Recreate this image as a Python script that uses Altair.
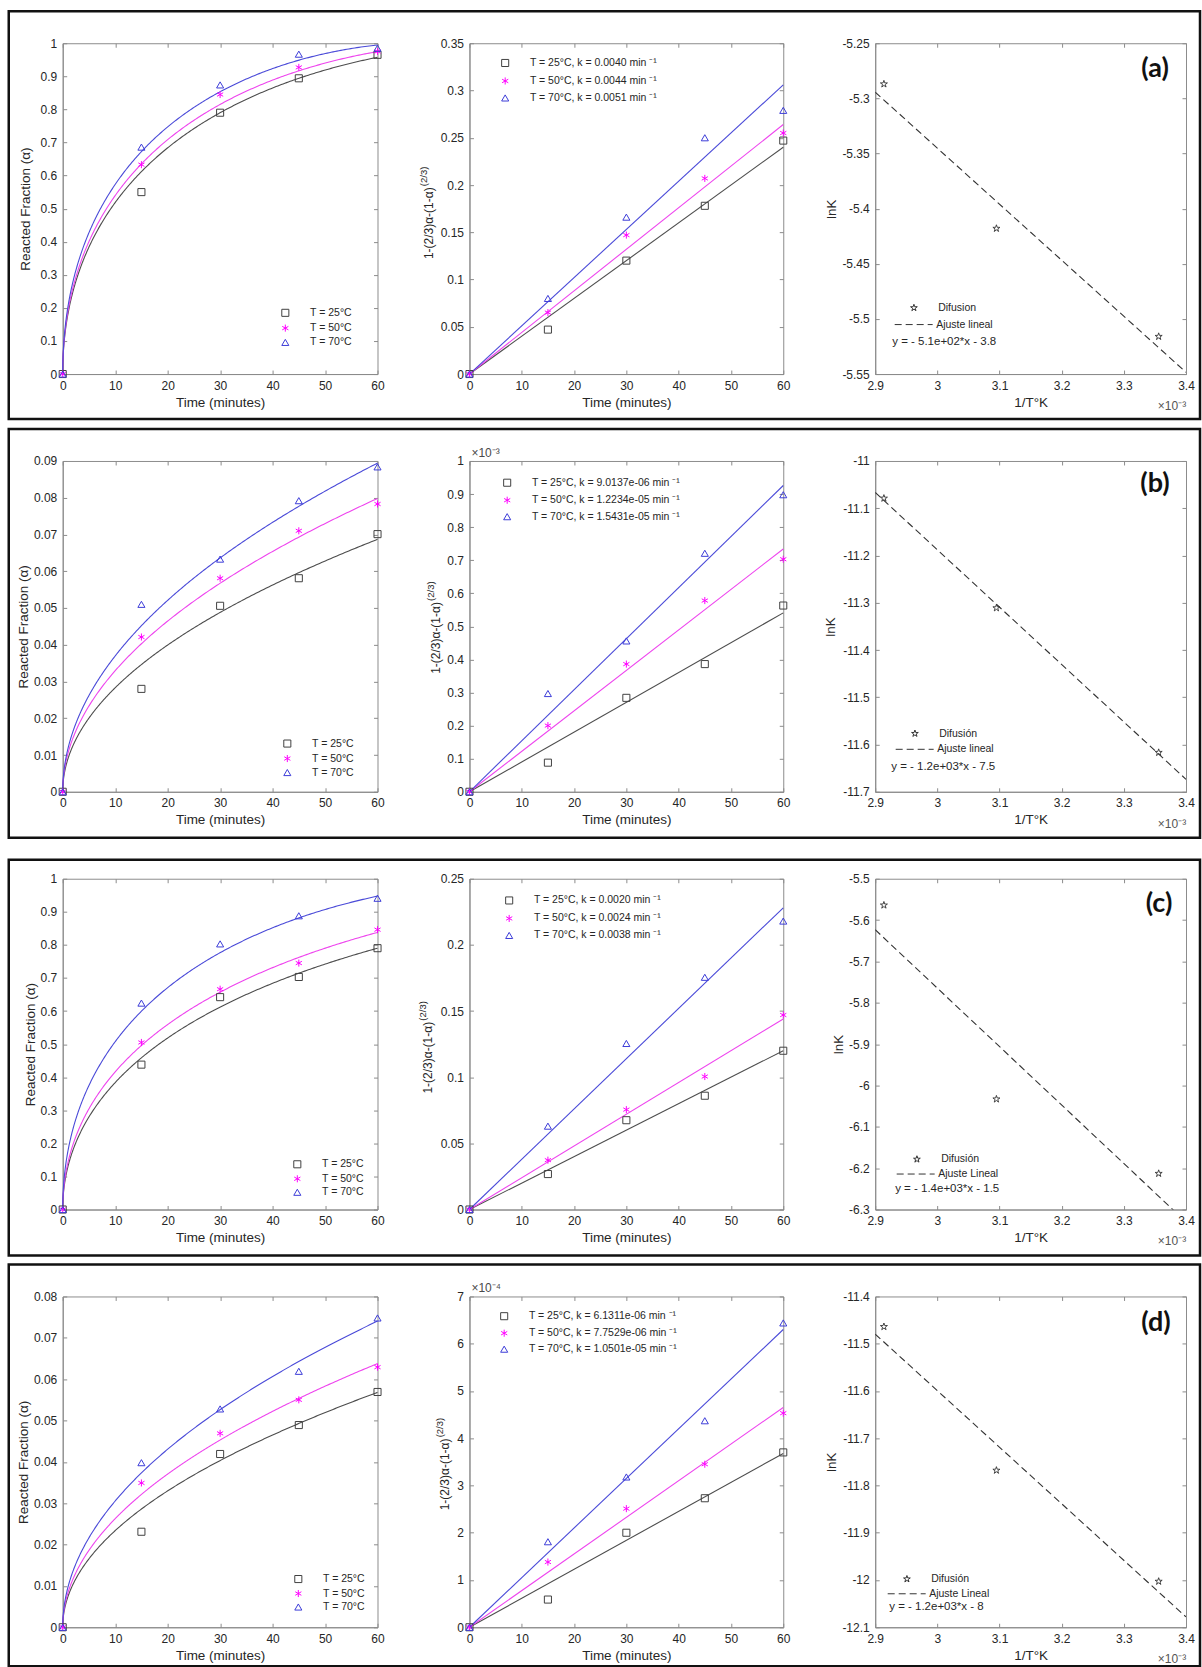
import numpy as np
import pandas as pd
import altair as alt

FONT = "Liberation Sans"
TXT = "#262626"
AXC = "#8c8c8c"

# ---------------- data ----------------
time_min = [0, 15, 30, 45, 60]
temp_labels = ["T = 25°C", "T = 50°C", "T = 70°C"]
curve_ids = ["25", "50", "70"]
point_colors = ["#404040", "#ff00ff", "#3c3cd8"]
line_colors = ["#4d4d4d", "#ee44ee", "#4a4ad8"]
inv_T = [2.914, 3.095, 3.356]          # 1/T (x 10^-3 K^-1)

# row (a)
alpha_a = [[0, 0.550, 0.790, 0.894, 0.965],
           [0, 0.633, 0.845, 0.927, 0.975],
           [0, 0.686, 0.874, 0.967, 0.985]]
gb_a = [[0, 0.047, 0.120, 0.178, 0.247],
        [0, 0.065, 0.147, 0.207, 0.255],
        [0, 0.080, 0.166, 0.250, 0.279]]
k_a = [0.0040, 0.0044, 0.0051]
k_text_a = ["0.0040", "0.0044", "0.0051"]
lnk_a = [-5.287, -5.418, -5.516]

# row (b)
alpha_b = [[0, 0.0280, 0.0506, 0.0581, 0.0701],
           [0, 0.0421, 0.0581, 0.0710, 0.0783],
           [0, 0.0510, 0.0633, 0.0792, 0.0884]]
gb_b = [[0, 0.088, 0.284, 0.386, 0.563],
        [0, 0.200, 0.386, 0.578, 0.703],
        [0, 0.297, 0.456, 0.721, 0.898]]          # x 10^-3
k_b = [9.0137e-06, 1.2234e-05, 1.5431e-05]
k_text_b = ["9.0137e-06", "1.2234e-05", "1.5431e-05"]
lnk_b = [-11.079, -11.311, -11.617]

# row (c)
alpha_c = [[0, 0.438, 0.642, 0.703, 0.790],
           [0, 0.505, 0.666, 0.745, 0.846],
           [0, 0.624, 0.803, 0.888, 0.941]]
gb_c = [[0, 0.0268, 0.0675, 0.086, 0.120],
        [0, 0.0373, 0.0755, 0.1005, 0.147],
        [0, 0.063, 0.1255, 0.1755, 0.218]]
k_c = [0.0020, 0.0024, 0.0038]
k_text_c = ["0.0020", "0.0024", "0.0038"]
lnk_c = [-5.564, -6.033, -6.213]

# row (d)
alpha_d = [[0, 0.0231, 0.0419, 0.0489, 0.0569],
           [0, 0.0349, 0.0469, 0.0550, 0.0629],
           [0, 0.0398, 0.0528, 0.0619, 0.0748]]
gb_d = [[0, 0.586, 2.00, 2.73, 3.70],
        [0, 1.38, 2.51, 3.45, 4.53],
        [0, 1.81, 3.18, 4.37, 6.44]]              # x 10^-4
k_d = [6.1311e-06, 7.7529e-06, 1.0501e-05]
k_text_d = ["6.1311e-06", "7.7529e-06", "1.0501e-05"]
lnk_d = [-11.464, -11.768, -12.003]

# tick labels
time_ticks = [0, 10, 20, 30, 40, 50, 60]
invT_ticks = [2.9, 3.0, 3.1, 3.2, 3.3, 3.4]
alpha_ticks_ac = [0, 0.1, 0.2, 0.3, 0.4, 0.5, 0.6, 0.7, 0.8, 0.9, 1]
alpha_ticks_b = [0, 0.01, 0.02, 0.03, 0.04, 0.05, 0.06, 0.07, 0.08, 0.09]
alpha_ticks_d = [0, 0.01, 0.02, 0.03, 0.04, 0.05, 0.06, 0.07, 0.08]
gb_ticks_a = [0, 0.05, 0.1, 0.15, 0.2, 0.25, 0.3, 0.35]
gb_ticks_b = [0, 0.1, 0.2, 0.3, 0.4, 0.5, 0.6, 0.7, 0.8, 0.9, 1]
gb_ticks_c = [0, 0.05, 0.1, 0.15, 0.2, 0.25]
gb_ticks_d = [0, 1, 2, 3, 4, 5, 6, 7]
lnk_ticks_a = [-5.55, -5.5, -5.45, -5.4, -5.35, -5.3, -5.25]
lnk_ticks_b = [-11.7, -11.6, -11.5, -11.4, -11.3, -11.2, -11.1, -11]
lnk_ticks_c = [-6.3, -6.2, -6.1, -6, -5.9, -5.8, -5.7, -5.6, -5.5]
lnk_ticks_d = [-12.1, -12, -11.9, -11.8, -11.7, -11.6, -11.5, -11.4]

# ---------------- helpers ----------------
def star_path():
    pts = []
    for i in range(10):
        r = 1.0 if i % 2 == 0 else 0.382
        a = np.deg2rad(-90 + 36 * i)
        pts.append(f"{r*np.cos(a):.3f},{r*np.sin(a):.3f}")
    return "M" + "L".join(pts) + "Z"

STAR = star_path()
ASTER = "M0,-1L0,1M-0.87,-0.5L0.87,0.5M-0.87,0.5L0.87,-0.5"
SHAPES = ["square", ASTER, "triangle-up"]

W_L, W_M, W_R, H = 315, 314, 311, 331
TICK = alt.ExprRef(expr="-4")


def gb_invert(kt):
    kt = np.asarray(kt, dtype=float)
    lo = np.zeros_like(kt)
    hi = np.ones_like(kt)
    for _ in range(60):
        mid = 0.5 * (lo + hi)
        f = 1 - 2 * mid / 3 - np.power(1 - mid, 2 / 3)
        below = f < kt
        lo = np.where(below, mid, lo)
        hi = np.where(below, hi, mid)
    return 0.5 * (lo + hi)


def axis(**kw):
    base = dict(grid=False, domainColor=AXC, domainWidth=1, tickColor=AXC, tickWidth=1,
                tickSize=TICK, labelFont=FONT, labelFontSize=12, labelColor=TXT,
                labelExpr="datum.value + ''", labelOverlap=False, labelFlush=False,
                labelPadding=10, titleFont=FONT, titleFontSize=13.5,
                titleFontWeight="normal", titleColor=TXT)
    base.update(kw)
    return alt.Axis(**base)


def xaxis(values, title, W):
    return axis(values=values, title=title, orient="bottom", titleX=W / 2, titleY=28,
                titleBaseline="middle", titleAlign="center")


def yaxis(values, title, tx):
    return axis(values=values, title=title, orient="left", titleX=tx, titleY=H / 2,
                titleAngle=270, titleBaseline="middle", titleAlign="center")


def frame(df, xf, yf, xs, ys, xv, yv):
    return alt.Chart(df).mark_point(opacity=0, size=1).encode(
        x=alt.X(xf, scale=xs, axis=axis(values=xv, orient="top", labels=False, domain=False, title=None)),
        y=alt.Y(yf, scale=ys, axis=axis(values=yv, orient="right", labels=False, domain=False, title=None)),
    )


def legend(x, y, rowpad, off, size=50):
    return alt.Legend(orient="none", legendX=x, legendY=y, title=None, padding=0,
                      direction="vertical", rowPadding=rowpad, labelOffset=off,
                      symbolSize=size, symbolStrokeWidth=1, labelFont=FONT,
                      labelFontSize=10.5, labelColor=TXT, labelLimit=400)


def text_layer(txt, x, y, size=12, color=TXT, align="left", baseline="middle",
               angle=0, font=FONT, weight="normal"):
    mk = dict(align=align, baseline=baseline, fontSize=size, color=color, font=font,
              fontWeight=weight)
    if angle:
        mk["angle"] = angle
    return alt.Chart(pd.DataFrame({"s": [txt]})).mark_text(**mk).encode(
        text="s:N", x=alt.value(x), y=alt.value(y))


def box_layer(y0, y1):
    return alt.Chart(pd.DataFrame({"s": [0]})).mark_rect(
        filled=False, stroke="#111111", strokeWidth=2.5).encode(
        x=alt.value(-54), x2=alt.value(1138), y=alt.value(y0), y2=alt.value(y1))


def left_panel(r):
    rows = []
    for lab, vals in zip(temp_labels, r["alpha"]):
        for t, v in zip(time_min, vals):
            rows.append({"t": t, "v": v, "label": lab})
    pts = pd.DataFrame(rows)
    tt = 60 * np.linspace(0, 1, 301) ** 2
    crow = []
    for cid, k in zip(curve_ids, r["k"]):
        a = gb_invert(k * tt)
        crow += [{"t": float(t), "v": float(v), "cid": cid} for t, v in zip(tt, a)]
    cur = pd.DataFrame(crow)
    xs = alt.Scale(domain=[0, 60], nice=False, zero=False)
    ys = alt.Scale(domain=r["alpha_dom"], nice=False, zero=False)
    cx, cy, sp = r["l_leg"]
    leg = legend(cx - 3.5, cy - 5.5, sp - 11, 19.5)
    curves = alt.Chart(cur).mark_line(strokeWidth=1.1).encode(
        x=alt.X("t:Q", scale=xs, axis=None), y=alt.Y("v:Q", scale=ys, axis=None),
        stroke=alt.Stroke("cid:N", scale=alt.Scale(domain=curve_ids, range=line_colors), legend=None))
    points = alt.Chart(pts).mark_point(filled=False, size=50, strokeWidth=1, opacity=1).encode(
        x=alt.X("t:Q", scale=xs, axis=xaxis(time_ticks, "Time (minutes)", W_L)),
        y=alt.Y("v:Q", scale=ys, axis=yaxis(r["alpha_ticks"], "Reacted Fraction (α)", r["l_ytx"])),
        color=alt.Color("label:N", scale=alt.Scale(domain=temp_labels, range=point_colors), legend=leg),
        shape=alt.Shape("label:N", scale=alt.Scale(domain=temp_labels, range=SHAPES), legend=leg))
    fr = frame(pts, "t:Q", "v:Q", xs, ys, time_ticks, r["alpha_ticks"])
    box = box_layer(*r["box"])
    return alt.layer(box, fr, curves, points).resolve_axis(x="independent", y="independent").properties(width=W_L, height=H)


def mid_panel(r):
    labels = [f"{t}, k = {kt} min ⁻¹" for t, kt in zip(temp_labels, r["ktxt"])]
    rows = []
    for lab, vals in zip(labels, r["gb"]):
        for t, v in zip(time_min, vals):
            rows.append({"t": t, "v": v, "label": lab})
    pts = pd.DataFrame(rows)
    lrows = []
    for cid, k in zip(curve_ids, r["k"]):
        for t in (0, 60):
            lrows.append({"t": t, "v": k * t * r["gb_scale"], "cid": cid})
    lin = pd.DataFrame(lrows)
    xs = alt.Scale(domain=[0, 60], nice=False, zero=False)
    ys = alt.Scale(domain=r["gb_dom"], nice=False, zero=False)
    cx, cy, sp = r["m_leg"]
    leg = legend(cx - 3.5, cy - 5.5, sp - 11, 19.5)
    lines = alt.Chart(lin).mark_line(strokeWidth=1.1).encode(
        x=alt.X("t:Q", scale=xs, axis=None), y=alt.Y("v:Q", scale=ys, axis=None),
        stroke=alt.Stroke("cid:N", scale=alt.Scale(domain=curve_ids, range=line_colors), legend=None))
    points = alt.Chart(pts).mark_point(filled=False, size=50, strokeWidth=1, opacity=1).encode(
        x=alt.X("t:Q", scale=xs, axis=xaxis(time_ticks, "Time (minutes)", W_M)),
        y=alt.Y("v:Q", scale=ys, axis=axis(values=r["gb_ticks"], title=None, orient="left")),
        color=alt.Color("label:N", scale=alt.Scale(domain=labels, range=point_colors), legend=leg),
        shape=alt.Shape("label:N", scale=alt.Scale(domain=labels, range=SHAPES), legend=leg))
    fr = frame(pts, "t:Q", "v:Q", xs, ys, time_ticks, r["gb_ticks"])
    tx, tyb = r["m_title"]
    layers = [fr, lines, points,
              text_layer("1-(2/3)α-(1-α)", tx, tyb, size=12, angle=270),
              text_layer("(2/3)", tx - 5, tyb - 73, size=9.5, angle=270)]
    if r["gb_exp"]:
        layers.append(text_layer(r["gb_exp"], 2, -8, size=12, color="#4a4a4a"))
    return alt.layer(*layers).resolve_axis(x="independent", y="independent").properties(width=W_M, height=H)


def right_panel(r):
    pts = pd.DataFrame({"x": inv_T, "y": r["lnk"], "kind": [r["dif"]] * 3})
    slope, icpt = np.polyfit(inv_T, r["lnk"], 1)
    xl = [invT_ticks[0], invT_ticks[-1]]
    lin = pd.DataFrame({"x": xl, "y": [slope * v + icpt for v in xl], "fit": [r["aj"]] * 2})
    xs = alt.Scale(domain=[2.9, 3.4], nice=False, zero=False)
    ys = alt.Scale(domain=r["lnk_dom"], nice=False, zero=False)
    scx, scy, lx0, ly, eqx, eqy = r["r_leg"]
    leg_star = legend(scx - 3.5, scy - 5.5, 0, 19)
    leg_line = alt.Legend(orient="none", legendX=lx0, legendY=ly - 19, title=None, padding=0,
                          direction="vertical", labelOffset=3, symbolSize=1444,
                          symbolStrokeWidth=1, symbolStrokeColor="#333333",
                          labelFont=FONT, labelFontSize=10.5, labelColor=TXT, labelLimit=400)
    line = alt.Chart(lin).mark_line(color="#333333", strokeWidth=1.1, clip=True).encode(
        x=alt.X("x:Q", scale=xs, axis=None), y=alt.Y("y:Q", scale=ys, axis=None),
        strokeDash=alt.StrokeDash("fit:N", scale=alt.Scale(domain=[r["aj"]], range=[[7, 4]]), legend=leg_line))
    points = alt.Chart(pts).mark_point(filled=False, size=55, strokeWidth=0.9, color="#333333", opacity=1).encode(
        x=alt.X("x:Q", scale=xs, axis=xaxis(invT_ticks, "1/T°K", W_R)),
        y=alt.Y("y:Q", scale=ys, axis=yaxis(r["lnk_ticks"], "lnK", r["r_ytx"])),
        shape=alt.Shape("kind:N", scale=alt.Scale(domain=[r["dif"]], range=[STAR]), legend=leg_star))
    fr = frame(pts, "x:Q", "y:Q", xs, ys, invT_ticks, r["lnk_ticks"])
    tgx, tgy = r["tag_pos"]
    layers = [fr, line, points,
              text_layer(r["eq"], eqx, eqy, size=11.5),
              text_layer(r["tag"], tgx, tgy, size=27, align="center", font="Lato", weight="bold", color="#111111"),
              text_layer("×10⁻³", 297, 363, size=12, align="center", color="#555555")]
    return alt.layer(*layers).resolve_axis(x="independent", y="independent").properties(width=W_R, height=H)


ROWS = [
    dict(tag="(a)", alpha=alpha_a, gb=gb_a, k=k_a, ktxt=k_text_a, lnk=lnk_a,
         alpha_dom=[0, 1], alpha_ticks=alpha_ticks_ac, gb_dom=[0, 0.35], gb_ticks=gb_ticks_a,
         gb_scale=1, gb_exp=None, lnk_dom=[-5.55, -5.25], lnk_ticks=lnk_ticks_a,
         dif="Difusion", aj="Ajuste lineal", eq="y = - 5.1e+02*x - 3.8",
         l_ytx=-37, l_leg=(221, 270, 14.3), m_title=(-40, 216), m_leg=(34, 20, 17),
         r_ytx=-44, r_leg=(37, 265, 19, 281, 17, 299), tag_pos=(280, 26), box=(-32, 376)),
    dict(tag="(b)", alpha=alpha_b, gb=gb_b, k=k_b, ktxt=k_text_b, lnk=lnk_b,
         alpha_dom=[0, 0.09], alpha_ticks=alpha_ticks_b, gb_dom=[0, 1], gb_ticks=gb_ticks_b,
         gb_scale=1e3, gb_exp="×10⁻³", lnk_dom=[-11.7, -11], lnk_ticks=lnk_ticks_b,
         dif="Difusión", aj="Ajuste lineal", eq="y = - 1.2e+03*x - 7.5",
         l_ytx=-39, l_leg=(223, 283, 14), m_title=(-33, 213), m_leg=(36, 22, 16.5),
         r_ytx=-45, r_leg=(38, 273, 20, 288, 16, 306), tag_pos=(280, 23), box=(-32, 377)),
    dict(tag="(c)", alpha=alpha_c, gb=gb_c, k=k_c, ktxt=k_text_c, lnk=lnk_c,
         alpha_dom=[0, 1], alpha_ticks=alpha_ticks_ac, gb_dom=[0, 0.25], gb_ticks=gb_ticks_c,
         gb_scale=1, gb_exp=None, lnk_dom=[-6.3, -5.5], lnk_ticks=lnk_ticks_c,
         dif="Difusión", aj="Ajuste Lineal", eq="y = - 1.4e+03*x - 1.5",
         l_ytx=-32, l_leg=(233, 286, 13.5), m_title=(-41, 215), m_leg=(38, 22, 17),
         r_ytx=-37, r_leg=(40, 281, 21, 295, 20, 310), tag_pos=(284, 25), box=(-19, 377)),
    dict(tag="(d)", alpha=alpha_d, gb=gb_d, k=k_d, ktxt=k_text_d, lnk=lnk_d,
         alpha_dom=[0, 0.08], alpha_ticks=alpha_ticks_d, gb_dom=[0, 7], gb_ticks=gb_ticks_d,
         gb_scale=1e4, gb_exp="×10⁻⁴", lnk_dom=[-12.1, -11.4], lnk_ticks=lnk_ticks_d,
         dif="Difusión", aj="Ajuste Lineal", eq="y = - 1.2e+03*x - 8",
         l_ytx=-39, l_leg=(234, 283, 13.5), m_title=(-24, 214), m_leg=(33, 20, 16),
         r_ytx=-44, r_leg=(30, 283, 12, 297, 14, 311), tag_pos=(281, 27), box=(-32, 370)),
]

RES = dict(color="independent", shape="independent", stroke="independent", strokeDash="independent")

panels = []
for r in ROWS:
    panels += [left_panel(r), mid_panel(r), right_panel(r)]

chart = (alt.concat(*panels, columns=3, spacing={"row": 87, "column": 92}, bounds="flush")
         .resolve_scale(**RES)
         .properties(padding={"left": 6.75, "top": 8.75, "right": 0, "bottom": 0}, background="white")
         .configure_view(stroke=AXC, strokeWidth=1))

chart.save("out.html", embed_options={"renderer": "svg", "actions": False})
